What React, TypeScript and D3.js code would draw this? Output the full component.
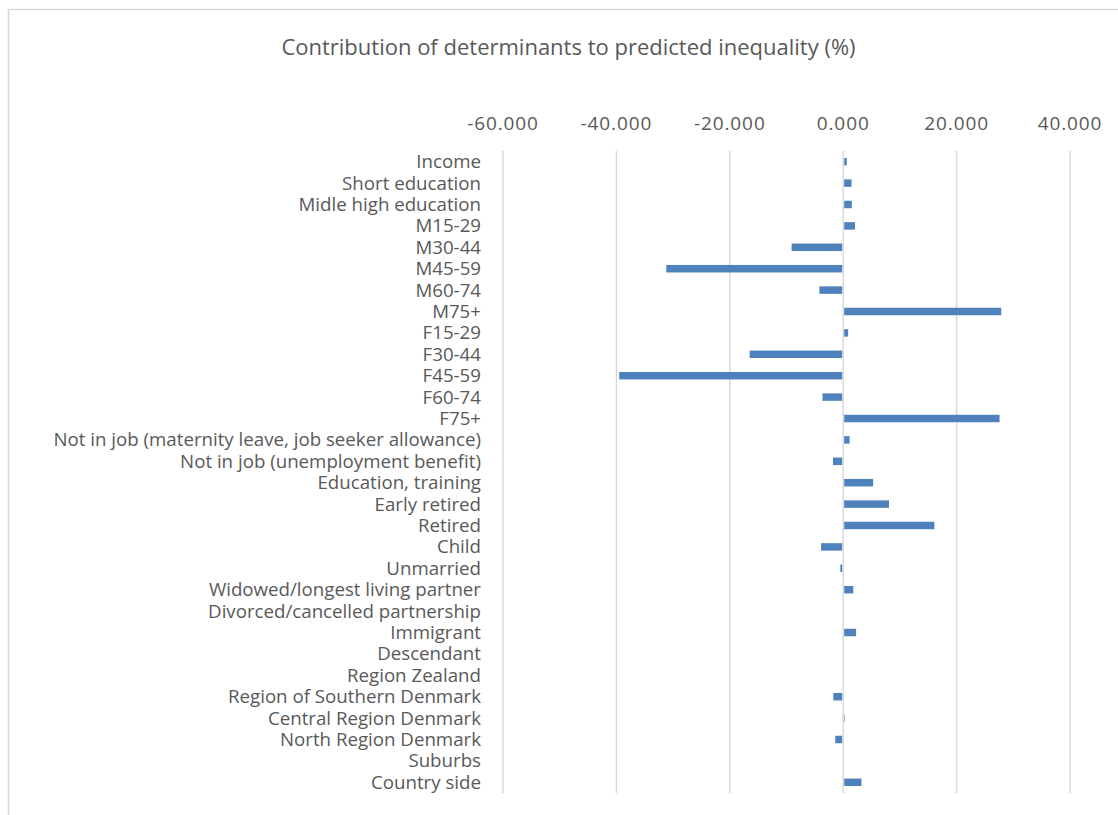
import React from "react";
import * as d3 from "d3";

const categories: string[] = [
  "Income",
  "Short education",
  "Midle high education",
  "M15-29",
  "M30-44",
  "M45-59",
  "M60-74",
  "M75+",
  "F15-29",
  "F30-44",
  "F45-59",
  "F60-74",
  "F75+",
  "Not in job (maternity leave, job seeker allowance)",
  "Not in job (unemployment benefit)",
  "Education, training",
  "Early retired",
  "Retired",
  "Child",
  "Unmarried",
  "Widowed/longest living partner",
  "Divorced/cancelled partnership",
  "Immigrant",
  "Descendant",
  "Region Zealand",
  "Region of Southern Denmark",
  "Central Region Denmark",
  "North Region Denmark",
  "Suburbs",
  "Country side",
];

const values: number[] = [
  0.45, 1.3, 1.35, 1.9, -9.1, -31.2, -4.2, 27.7, 0.7, -16.5, -39.5, -3.65, 27.4,
  0.95, -1.8, 5.1, 7.9, 15.9, -3.9, -0.5, 1.6, -0.1, 2.1, 0.0, 0.0, -1.75, 0.1,
  -1.4, 0.0, 3.05,
];

const xTicks: number[] = [-60, -40, -20, 0, 20, 40];

const title = "Contribution of determinants to predicted inequality (%)";

export default function App() {
  const W = 1118;
  const H = 815;
  const left = 503;
  const right = 1070;
  const top = 151;
  const bottom = 793;

  const x = d3.scaleLinear().domain([-60, 40]).range([left, right]);
  const y = d3
    .scaleBand<string>()
    .domain(categories)
    .range([top, bottom])
    .paddingInner(0.65)
    .paddingOuter(0.325);
  const yc = d3.scaleBand<string>().domain(categories).range([top, bottom]);

  const font = "'Open Sans', 'DejaVu Sans', sans-serif";
  const textColor = "#595959";

  return (
    <svg
      width={W}
      height={H}
      style={{ position: "absolute", left: 0, top: 0, background: "#fff" }}
    >
      <rect x={8.5} y={9.5} width={W + 20} height={H + 20} fill="#fff" stroke="#d9d9d9" strokeWidth={1.5} />
      <text
        x={568.5}
        y={54.5}
        textAnchor="middle"
        fontFamily={font}
        fontSize={22}
        fill={textColor}
      >
        {title}
      </text>
      {xTicks.map((t) => (
        <g key={t}>
          <line
            x1={x(t)}
            x2={x(t)}
            y1={top}
            y2={bottom}
            stroke="#d9d9d9"
            strokeWidth={1.5}
          />
          <text
            x={x(t)}
            y={130}
            textAnchor="middle"
            fontFamily={font}
            fontSize={19}
            letterSpacing={0.9}
            fill={textColor}
          >
            {d3.format(".3f")(t).replace("−", "-")}
          </text>
        </g>
      ))}
      {categories.map((c, i) => {
        const v = values[i];
        const x0 = x(0);
        const xv = x(v);
        const w = Math.max(0, Math.abs(xv - x0) - (v >= 0 ? 0 : 1));
        return (
          <g key={c}>
            <rect
              x={v >= 0 ? x0 + 1 : xv}
              y={y(c)}
              width={w}
              height={y.bandwidth()}
              fill="#4f81bd"
            />
            <text
              x={481}
              y={(yc(c) as number) + yc.bandwidth() / 2}
              dy="0.35em"
              textAnchor="end"
              fontFamily={font}
              fontSize={18.7}
              fill={textColor}
            >
              {c}
            </text>
          </g>
        );
      })}
    </svg>
  );
}
